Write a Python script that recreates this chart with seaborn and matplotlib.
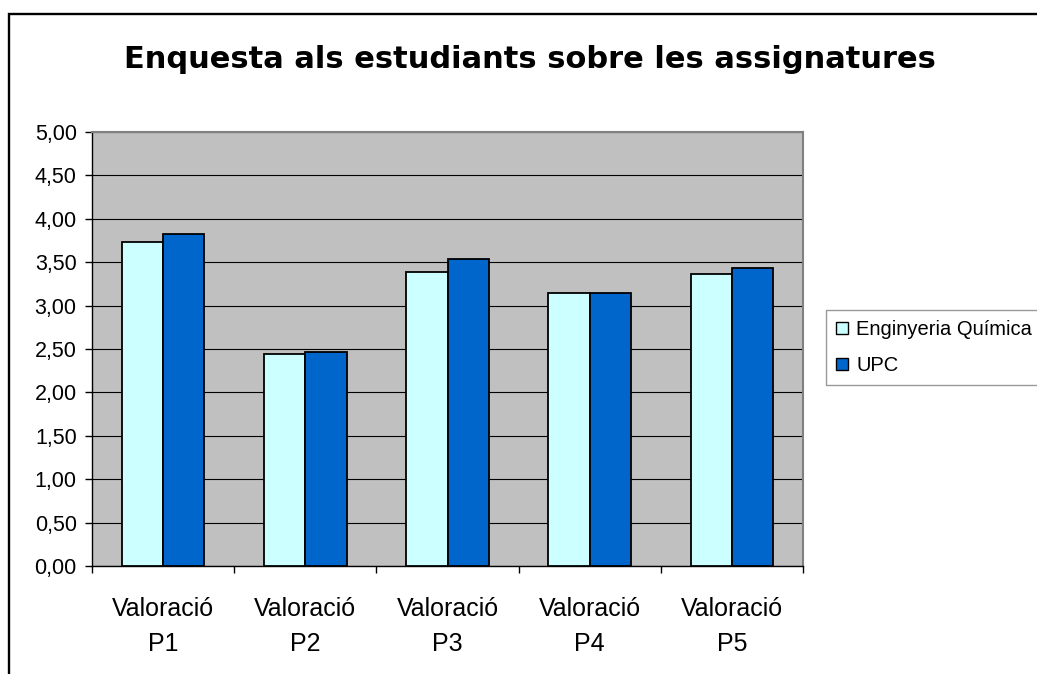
import pandas as pd
import matplotlib
matplotlib.use("Agg")
import matplotlib.pyplot as plt
import matplotlib.patches as mpatches
import seaborn as sns

# data
categories = ["Valoració\nP1", "Valoració\nP2", "Valoració\nP3", "Valoració\nP4", "Valoració\nP5"]
enginyeria_quimica = [3.73, 2.44, 3.39, 3.14, 3.36]
upc = [3.82, 2.46, 3.54, 3.15, 3.43]
series_names = ["Enginyeria Química", "UPC"]
series_colors = ["#CCFFFF", "#0066CC"]
y_ticks = [0.0, 0.5, 1.0, 1.5, 2.0, 2.5, 3.0, 3.5, 4.0, 4.5, 5.0]
y_tick_labels = ["0,00", "0,50", "1,00", "1,50", "2,00", "2,50", "3,00", "3,50", "4,00", "4,50", "5,00"]

# long-form table for seaborn
df = pd.DataFrame({
    "categoria": categories * 2,
    "serie": [series_names[0]] * len(categories) + [series_names[1]] * len(categories),
    "valor": enginyeria_quimica + upc,
})

sns.set_theme(style="white")
plt.rcParams["font.family"] = ["Liberation Sans", "DejaVu Sans"]
plt.rcParams["text.color"] = "black"
plt.rcParams["xtick.color"] = "black"
plt.rcParams["ytick.color"] = "black"
plt.rcParams["axes.labelcolor"] = "black"

W, H = 1037, 674
fig = plt.figure(figsize=(W / 100, H / 100), dpi=100)
fig.patch.set_facecolor("white")

# outer chart frame (cut off at right and bottom like the reference)
frame = mpatches.Rectangle((9 / W, -0.1), 1.2, (H - 14) / H + 0.1, transform=fig.transFigure,
                           fill=False, edgecolor="black", linewidth=1.7, clip_on=False)
fig.patches.append(frame)

ax = fig.add_axes([92 / W, (H - 566) / H, 711 / W, 434 / H])

sns.barplot(data=df, x="categoria", y="valor", hue="serie", palette=series_colors,
            width=0.58, gap=0, edgecolor="black", linewidth=1.3, saturation=1,
            ax=ax, zorder=3)

ax.set_facecolor("#C0C0C0")
ax.set_ylim(0, 5)
ax.set_xlim(-0.5, len(categories) - 0.5)
ax.set_yticks(y_ticks)
ax.set_yticklabels(y_tick_labels, fontsize=15.5, color="black")
ax.yaxis.grid(True, color="black", linewidth=0.8, zorder=0)
ax.set_axisbelow(True)
ax.set_xlabel("")
ax.set_ylabel("")

# category labels centered, tick marks at the boundaries
ax.set_xticks(range(len(categories)))
ax.set_xticklabels(categories, fontsize=18, color="black", linespacing=1.6)
ax.set_xticks([i - 0.5 for i in range(len(categories) + 1)], minor=True)
ax.tick_params(axis="x", which="major", length=0, pad=22)
ax.tick_params(axis="x", which="minor", length=5, width=1, color="black", direction="out", bottom=True)
ax.tick_params(axis="y", which="major", length=5, width=1, color="black", direction="out", left=True, pad=6)

for side in ["left", "bottom"]:
    ax.spines[side].set_color("black")
    ax.spines[side].set_linewidth(1)
for side in ["top", "right"]:
    ax.spines[side].set_color("#808080")
    ax.spines[side].set_linewidth(1.5)

# title
fig.text(530 / W, 1 - 60 / H, "Enquesta als estudiants sobre les assignatures",
         ha="center", va="center", fontsize=22, fontweight="bold", family="DejaVu Sans",
         color="black")

# legend
handles, labels = ax.get_legend_handles_labels()
leg = ax.legend(handles, labels, loc="upper left", bbox_to_anchor=(826 / W, 1 - 310 / H),
                bbox_transform=fig.transFigure, borderaxespad=0, fontsize=14.5,
                frameon=True, fancybox=False, shadow=False, handlelength=0.6, handleheight=0.6,
                handletextpad=0.4, labelspacing=0.85, borderpad=0.5)
leg.get_frame().set_edgecolor("#808080")
leg.get_frame().set_linewidth(1)
for t in leg.get_texts():
    t.set_color("black")
for h in leg.get_patches():
    h.set_edgecolor("black")
    h.set_linewidth(1)

fig.savefig("out.png", dpi=100)
